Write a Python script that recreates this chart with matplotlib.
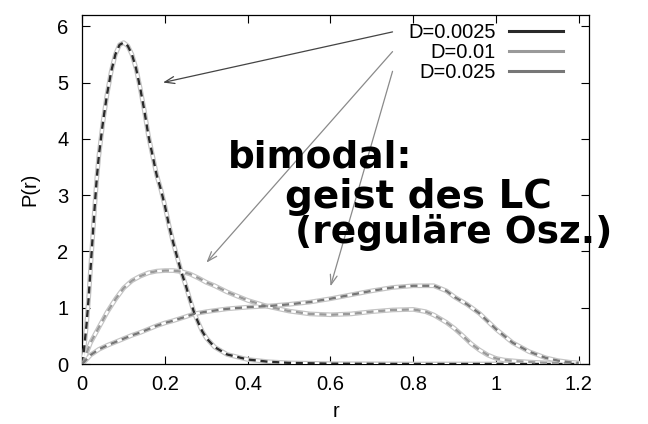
import matplotlib
matplotlib.use("Agg")
import matplotlib.pyplot as plt

plt.rcParams['font.family'] = ['Liberation Sans', 'DejaVu Sans']

# P(r)
r_a = [0, 0.005, 0.01, 0.015, 0.02, 0.025, 0.03, 0.035, 0.04, 0.045, 0.05, 0.06, 0.07, 0.08, 0.09,
       0.10, 0.11, 0.12, 0.13, 0.14, 0.15, 0.16, 0.17, 0.18, 0.19, 0.20, 0.21, 0.22, 0.23, 0.24,
       0.25, 0.26, 0.27, 0.28, 0.29, 0.30, 0.32, 0.35, 0.40, 0.45, 0.50, 0.60, 0.80, 1.0, 1.2]
p_a = [0, 0.32, 0.68, 1.14, 1.7, 2.25, 2.8, 3.3, 3.7, 4.0, 4.3, 4.8, 5.2, 5.5, 5.67,
       5.71, 5.65, 5.5, 5.25, 4.9, 4.5, 4.05, 3.7, 3.35, 3.1, 2.8, 2.45, 2.15, 1.88, 1.62,
       1.4, 1.15, 0.92, 0.74, 0.58, 0.46, 0.3, 0.17, 0.08, 0.04, 0.02, 0.006, 0.0, 0.0, 0.0]

r_b = [0, 0.02, 0.04, 0.06, 0.08, 0.10, 0.12, 0.14, 0.16, 0.18, 0.20, 0.22, 0.24, 0.26, 0.28,
       0.30, 0.32, 0.35, 0.40, 0.45, 0.50, 0.55, 0.60, 0.65, 0.70, 0.75, 0.80, 0.83, 0.85, 0.88,
       0.90, 0.92, 0.94, 0.96, 0.98, 1.00, 1.02, 1.05, 1.08, 1.12, 1.2]
p_b = [0, 0.38, 0.65, 0.92, 1.15, 1.35, 1.48, 1.56, 1.62, 1.65, 1.66, 1.66, 1.64, 1.6, 1.53,
       1.45, 1.39, 1.28, 1.13, 1.02, 0.94, 0.89, 0.875, 0.89, 0.93, 0.96, 0.97, 0.93, 0.87, 0.74,
       0.63, 0.5, 0.36, 0.25, 0.16, 0.1, 0.07, 0.05, 0.035, 0.02, 0.005]

r_c = [0, 0.02, 0.04, 0.06, 0.08, 0.10, 0.12, 0.14, 0.16, 0.18, 0.20, 0.22, 0.25, 0.27, 0.30,
       0.35, 0.40, 0.45, 0.50, 0.55, 0.60, 0.65, 0.70, 0.75, 0.80, 0.85, 0.88, 0.90, 0.93, 0.96,
       1.00, 1.04, 1.08, 1.12, 1.15, 1.18, 1.2]
p_c = [0, 0.16, 0.26, 0.33, 0.39, 0.45, 0.51, 0.56, 0.62, 0.68, 0.73, 0.77, 0.84, 0.89, 0.93,
       0.98, 1.01, 1.03, 1.06, 1.1, 1.16, 1.23, 1.3, 1.36, 1.39, 1.39, 1.3, 1.19, 1.06, 0.9,
       0.62, 0.38, 0.22, 0.11, 0.06, 0.03, 0.02]

labels = ["D=0.0025", "D=0.01", "D=0.025"]
colors = ["#2a2a2a", "#9a9a9a", "#777777"]

# arrows from legend entries to curves (from, to)
arrows = [((0.75, 5.9), (0.195, 5.0), "#444444"),
          ((0.75, 5.55), (0.30, 1.8), "#8a8a8a"),
          ((0.75, 5.2), (0.60, 1.38), "#8a8a8a")]

notes = [(0.353, 3.49, "bimodal:", 27),
         (0.49, 2.78, "geist des LC", 28),
         (0.514, 2.15, "(reguläre Osz.)", 27)]

fig = plt.figure(figsize=(6.48, 4.24), dpi=100)
ax = fig.add_axes([0.127, 0.1415, 0.782, 0.8231])

for r, p, lab, c in zip([r_a, r_b, r_c], [p_a, p_b, p_c], labels, colors):
    ax.plot(r, p, color="#c4c4c4", lw=3.4, solid_capstyle="round", zorder=2)
    ax.plot(r, p, color="white", lw=1.7, zorder=3)
    ax.plot(r, p, color=c, lw=1.7, dashes=(3, 2), zorder=4)
    ax.plot([], [], color=c, lw=2.2, label=lab)

for (x0, y0), (x1, y1), c in arrows:
    ax.annotate("", xy=(x1, y1), xytext=(x0, y0),
                arrowprops=dict(arrowstyle="->,head_length=0.7,head_width=0.25",
                                color=c, lw=0.9, shrinkA=0, shrinkB=0))

for x, y, s, fs in notes:
    ax.text(x, y, s, fontsize=fs, fontweight="bold", color="black",
            family="DejaVu Sans", va="baseline", ha="left", zorder=6)

ax.set_xlim(0, 1.225)
ax.set_ylim(0, 6.2)
ax.set_xticks([0, 0.2, 0.4, 0.6, 0.8, 1.0, 1.2])
ax.set_xticklabels(["0", "0.2", "0.4", "0.6", "0.8", "1", "1.2"])
ax.set_yticks([0, 1, 2, 3, 4, 5, 6])
ax.tick_params(direction="in", length=6, width=0.8, top=True, right=True, labelsize=14.5)
ax.tick_params(axis="x", pad=8)
ax.tick_params(axis="y", pad=10)
ax.set_xlabel("r", fontsize=14.5, labelpad=6)
ax.set_ylabel("P(r)", fontsize=14.5, labelpad=13)
for s in ax.spines.values():
    s.set_linewidth(0.9)

ax.legend(loc="upper right", bbox_to_anchor=(0.9487, 0.976), frameon=False,
          markerfirst=False, fontsize=14.5, handlelength=2.7, handletextpad=0.65,
          labelspacing=0.05, borderpad=0, borderaxespad=0)

fig.savefig("out.png", dpi=100)
